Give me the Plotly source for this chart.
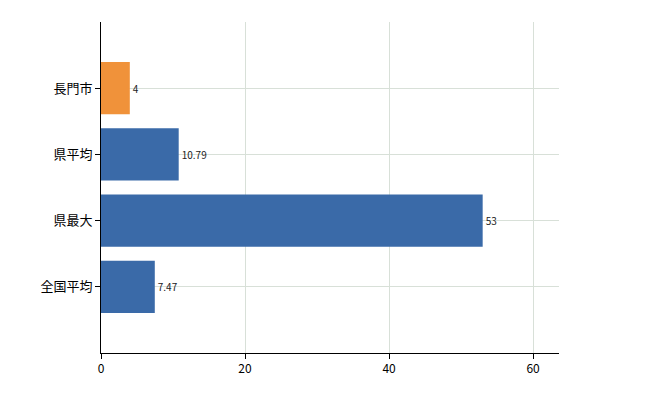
import plotly.graph_objects as go

categories = ["全国平均", "県最大", "県平均", "長門市"]
values = [7.47, 53, 10.79, 4]
labels = ["7.47", "53", "10.79", "4"]
colors = ["#3a6aa8", "#3a6aa8", "#3a6aa8", "#f0923a"]

fig = go.Figure(go.Bar(
    y=list(range(len(categories))), x=values, orientation="h",
    marker=dict(color=colors, line=dict(width=0)), width=0.79,
    text=labels, textposition="outside", cliponaxis=False,
    textfont=dict(size=10, color="#222"),
))
fig.update_layout(
    width=650, height=400, margin=dict(l=93, r=99, t=14, b=55),
    plot_bgcolor="white", paper_bgcolor="white", showlegend=False,
    font=dict(family="Noto Sans CJK JP", size=13, color="#000"),
)
fig.update_xaxes(range=[0, 63.6], tickvals=[0, 20, 40, 60], showline=True, linecolor="black",
                 ticks="outside", ticklen=5, tickcolor="black", showgrid=True,
                 gridcolor="#d8e0d8", zeroline=False, tickfont=dict(size=12))
fig.update_yaxes(range=[-1, 4], tickvals=list(range(len(categories))), ticktext=categories,
                 showline=True, linecolor="black", ticks="outside", ticklen=5, tickcolor="black",
                 showgrid=True, gridcolor="#d8e0d8", zeroline=False)
fig.write_html("out.html")
